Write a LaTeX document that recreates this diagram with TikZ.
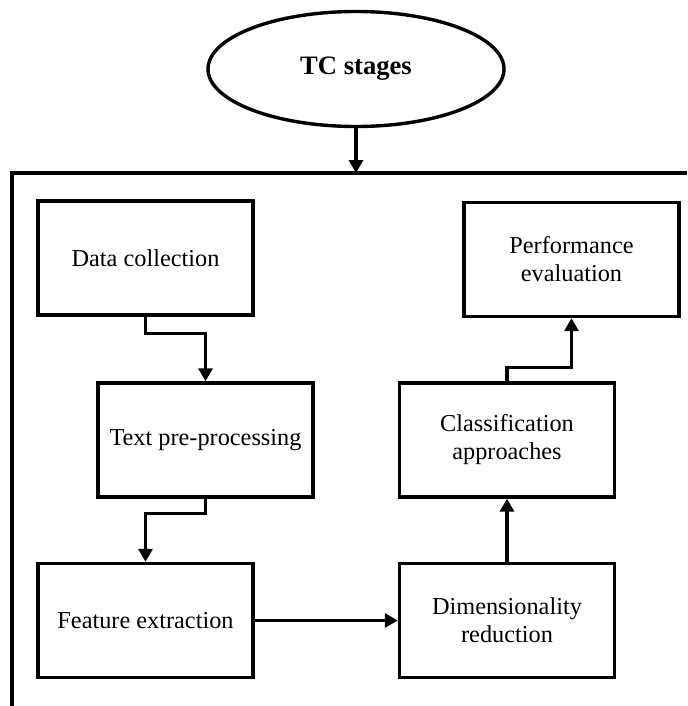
\documentclass[tikz,border=0pt]{standalone}
\usepackage{fontspec}
\setmainfont{Liberation Serif}
\usetikzlibrary{arrows.meta,shapes.geometric}

\tikzset{
  stagebox/.style={draw, line width=1.7pt, minimum width=107.5pt, minimum height=57pt,
    inner sep=0pt, align=center, font=\fontsize{12.15pt}{14pt}\selectfont},
  headoval/.style={draw, ellipse, line width=1.7pt, minimum width=148pt, minimum height=57.5pt,
    inner sep=0pt, font=\fontsize{13.3pt}{16pt}\selectfont\bfseries},
  flow/.style={line width=1.7pt, -{Triangle[length=6.5pt,width=7pt]}},
  framed/.style={line width=1.7pt}
}

\begin{document}
\begin{tikzpicture}[x=0.5pt,y=-0.5pt]
  \useasboundingbox (0,0) rectangle (687,706);

  % heading oval
  \node[headoval] (tc) at (356,69) {TC stages};

  % open frame holding the stages
  \draw[framed] (687,173) -- (12,173) -- (12,706);
  \coordinate (ft) at (356,173);
  \draw[flow] (tc.south) -- (ft);

  % stage boxes
  \node[stagebox] (dc) at (145.5,258)   {Data collection};
  \node[stagebox] (tp) at (205.5,440)   {Text pre-processing};
  \node[stagebox] (fe) at (145.5,620.5) {Feature extraction};
  \node[stagebox] (dr) at (507,620.5)   {Dimensionality\\reduction};
  \node[stagebox] (ca) at (507,440)     {Classification\\approaches};
  \node[stagebox] (pe) at (571.5,259.5) {Performance\\evaluation};

  % connectors between stages
  \draw[flow] (dc.south) -- ++(0,17) -| (tp.north);
  \draw[flow] (tp.south) -- ++(0,15) -| (fe.north);
  \draw[flow] (fe.east) -- (dr.west);
  \draw[flow] (dr.north) -- (ca.south);
  \draw[flow] (ca.north) -- ++(0,-14) -| (pe.south);
\end{tikzpicture}
\end{document}
